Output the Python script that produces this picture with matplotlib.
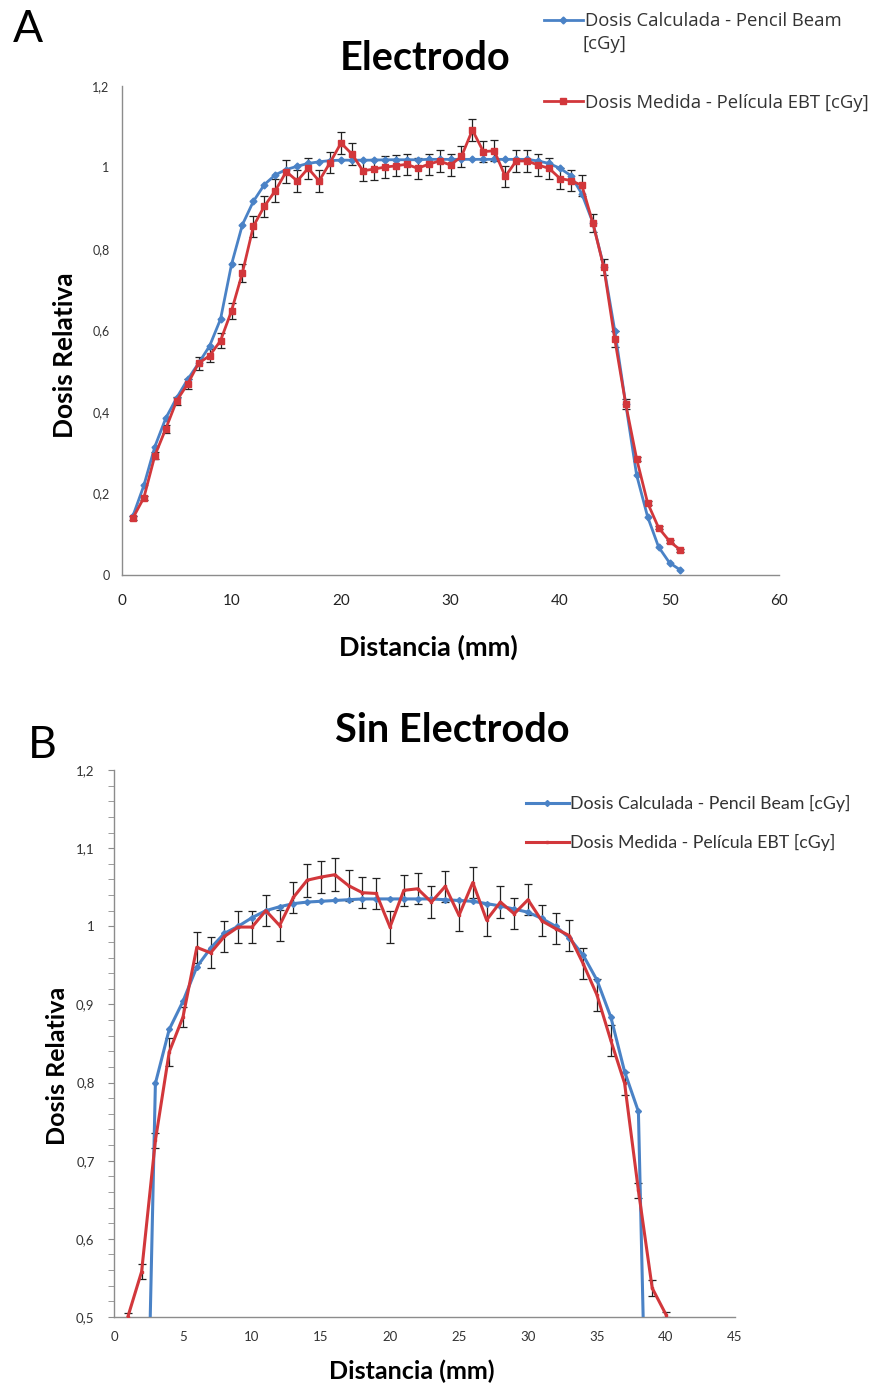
import numpy as np
import matplotlib
matplotlib.use("Agg")
import matplotlib.pyplot as plt
from matplotlib.ticker import FuncFormatter, MultipleLocator

plt.rcParams['font.family'] = ['Lato', 'DejaVu Sans']

# Panel A - con electrodo
xa = np.arange(1, 52)
calc_a = [0.145, 0.22, 0.315, 0.385, 0.435, 0.48, 0.52, 0.562, 0.628, 0.762,
          0.86, 0.917, 0.958, 0.982, 0.995, 1.003, 1.01, 1.014, 1.017, 1.018,
          1.018, 1.018, 1.018, 1.019, 1.019, 1.019, 1.019, 1.02, 1.02, 1.02,
          1.02, 1.02, 1.02, 1.02, 1.02, 1.02, 1.02, 1.016, 1.01, 0.998,
          0.98, 0.935, 0.865, 0.757, 0.6, 0.42, 0.245, 0.143, 0.069, 0.03, 0.012]
med_a = [0.14, 0.19, 0.293, 0.359, 0.428, 0.469, 0.52, 0.538, 0.575, 0.648,
         0.742, 0.856, 0.905, 0.943, 0.99, 0.967, 0.998, 0.967, 1.012, 1.06,
         1.033, 0.992, 0.996, 1.001, 1.004, 1.008, 0.998, 1.008, 1.016, 1.006,
         1.027, 1.092, 1.039, 1.041, 0.978, 1.016, 1.016, 1.006, 0.998, 0.973,
         0.968, 0.956, 0.864, 0.755, 0.579, 0.42, 0.285, 0.177, 0.116, 0.083, 0.061]
err_a = [0.005, 0.005, 0.008, 0.01, 0.01, 0.012, 0.016, 0.016, 0.018, 0.02,
         0.022, 0.026, 0.026, 0.028, 0.028, 0.026, 0.026, 0.026, 0.026, 0.026,
         0.026, 0.026, 0.026, 0.026, 0.026, 0.026, 0.026, 0.026, 0.026, 0.026,
         0.026, 0.027, 0.026, 0.026, 0.026, 0.026, 0.026, 0.026, 0.026, 0.026,
         0.026, 0.026, 0.022, 0.02, 0.02, 0.012, 0.005, 0.004, 0.004, 0.004, 0.004]

# Panel B - sin electrodo
xb_calc = np.arange(2, 40)
calc_b = [0.0, 0.799, 0.868, 0.904, 0.948, 0.972, 0.991, 1.0, 1.011, 1.02,
          1.025, 1.029, 1.031, 1.032, 1.033, 1.034, 1.035, 1.035, 1.035, 1.035,
          1.035, 1.035, 1.034, 1.033, 1.032, 1.029, 1.026, 1.022, 1.018, 1.01,
          1.0, 0.985, 0.963, 0.931, 0.884, 0.814, 0.763, 0.0]
xb_med = np.arange(1, 41)
med_b = [0.5, 0.558, 0.726, 0.839, 0.884, 0.973, 0.966, 0.987, 0.999, 0.999,
         1.02, 1.001, 1.037, 1.059, 1.063, 1.066, 1.052, 1.043, 1.042, 0.999,
         1.046, 1.048, 1.031, 1.051, 1.014, 1.056, 1.008, 1.031, 1.016, 1.034,
         1.007, 0.997, 0.988, 0.952, 0.912, 0.854, 0.799, 0.662, 0.537, 0.503]
err_b = [0.005, 0.01, 0.01, 0.018, 0.013, 0.02, 0.02, 0.02, 0.02, 0.02,
         0.02, 0.02, 0.02, 0.021, 0.021, 0.021, 0.02, 0.02, 0.02, 0.02,
         0.02, 0.02, 0.02, 0.02, 0.02, 0.02, 0.02, 0.02, 0.02, 0.02,
         0.02, 0.02, 0.02, 0.02, 0.02, 0.02, 0.015, 0.01, 0.01, 0.003]

lab_calc = "Dosis Calculada - Pencil Beam"
lab_med = "Dosis Medida - Película EBT [cGy]"

blue = '#4A82C6'
red = '#D2373B'
grey = '#8C8C8C'

comma = FuncFormatter(lambda v, p: ('%g' % round(v, 2)).replace('.', ','))

fig = plt.figure(figsize=(8.84, 13.84), dpi=100)

def style(ax):
    for s in ['top', 'right']:
        ax.spines[s].set_visible(False)
    for s in ['left', 'bottom']:
        ax.spines[s].set_color(grey)
        ax.spines[s].set_linewidth(1.0)
    ax.yaxis.set_major_formatter(comma)

# ---- A ----
axa = fig.add_axes([122/884, 1-575/1384, 657/884, 489/1384])
la, = axa.plot(xa, calc_a, color=blue, lw=2.0, marker='D', ms=3.5, zorder=3,
               label=lab_calc)
axa.errorbar(xa, med_a, yerr=err_a, fmt='none', ecolor='#222222',
             elinewidth=0.9, capsize=3, capthick=0.9, zorder=2)
lb, = axa.plot(xa, med_a, color=red, lw=2.0, marker='s', ms=5, zorder=4,
               label=lab_med)
axa.set_xlim(0, 60)
axa.set_ylim(0, 1.2)
axa.set_xticks(np.arange(0, 61, 10))
axa.set_yticks(np.arange(0, 1.21, 0.2))
style(axa)
axa.tick_params(length=0)
axa.tick_params(axis='y', labelsize=9, pad=9, colors='#333333')
axa.tick_params(axis='x', labelsize=11, pad=14, colors='#222222')
axa.set_ylabel("Dosis Relativa", fontsize=19, fontweight='bold')
axa.yaxis.set_label_coords(-0.068, 0.45)
axa.set_xlabel("Distancia (mm)", fontsize=19.5, fontweight='bold')
axa.xaxis.set_label_coords(0.466, -0.122)
fig.text(425/884, 1-58/1384, "Electrodo", fontsize=28.5, fontweight='bold',
         ha='center', va='center')
fig.text(28/884, 1-30/1384, "A", fontsize=32, ha='center', va='center')
fig.legend(handles=[la, lb], loc='upper left',
           bbox_to_anchor=(544/884, 1-12/1384), frameon=False,
           prop={'family': 'Open Sans', 'size': 13.3},
           handlelength=2.1, handletextpad=0.1, labelspacing=3.45,
           borderaxespad=0, borderpad=0, labelcolor='#333333')
fig.text(583/884, 1-44/1384, "[cGy]", family='Open Sans', fontsize=13.3,
         color='#333333', ha='left', va='center')

# ---- B ----
axb = fig.add_axes([114/884, 1-1317/1384, 621/884, 547/1384])
lc, = axb.plot(xb_calc, calc_b, color=blue, lw=2.2, marker='D', ms=3, zorder=3,
               label=lab_calc + " [cGy]")
axb.errorbar(xb_med, med_b, yerr=err_b, fmt='none', ecolor='#222222',
             elinewidth=0.9, capsize=3, capthick=0.9, zorder=2)
ld, = axb.plot(xb_med, med_b, color=red, lw=2.2, marker='s', ms=2, zorder=4,
               label=lab_med)
axb.set_xlim(0, 45)
axb.set_ylim(0.5, 1.2)
axb.set_xticks(np.arange(0, 46, 5))
axb.set_yticks(np.arange(0.5, 1.21, 0.1))
axb.yaxis.set_minor_locator(MultipleLocator(0.02))
style(axb)
axb.tick_params(axis='x', length=0, labelsize=9.5, pad=10, colors='#333333')
axb.tick_params(axis='y', which='major', length=4, color=grey, labelsize=9.5,
                pad=10, colors='#333333')
axb.tick_params(axis='y', which='minor', length=4, color=grey)
axb.set_ylabel("Dosis Relativa", fontsize=18, fontweight='bold')
axb.yaxis.set_label_coords(-0.072, 0.46)
axb.set_xlabel("Distancia (mm)", fontsize=18, fontweight='bold')
axb.xaxis.set_label_coords(0.48, -0.078)
fig.text(452/884, 1-730/1384, "Sin Electrodo", fontsize=28.5, fontweight='bold',
         ha='center', va='center')
fig.text(42/884, 1-745/1384, "B", fontsize=32, ha='center', va='center')
fig.legend(handles=[lc, ld], loc='upper left',
           bbox_to_anchor=(526/884, 1-795/1384), frameon=False, fontsize=12.8,
           handlelength=2.4, handletextpad=0.1, labelspacing=1.25,
           borderaxespad=0, borderpad=0, labelcolor='#333333')

fig.savefig("out.png", dpi=100)
